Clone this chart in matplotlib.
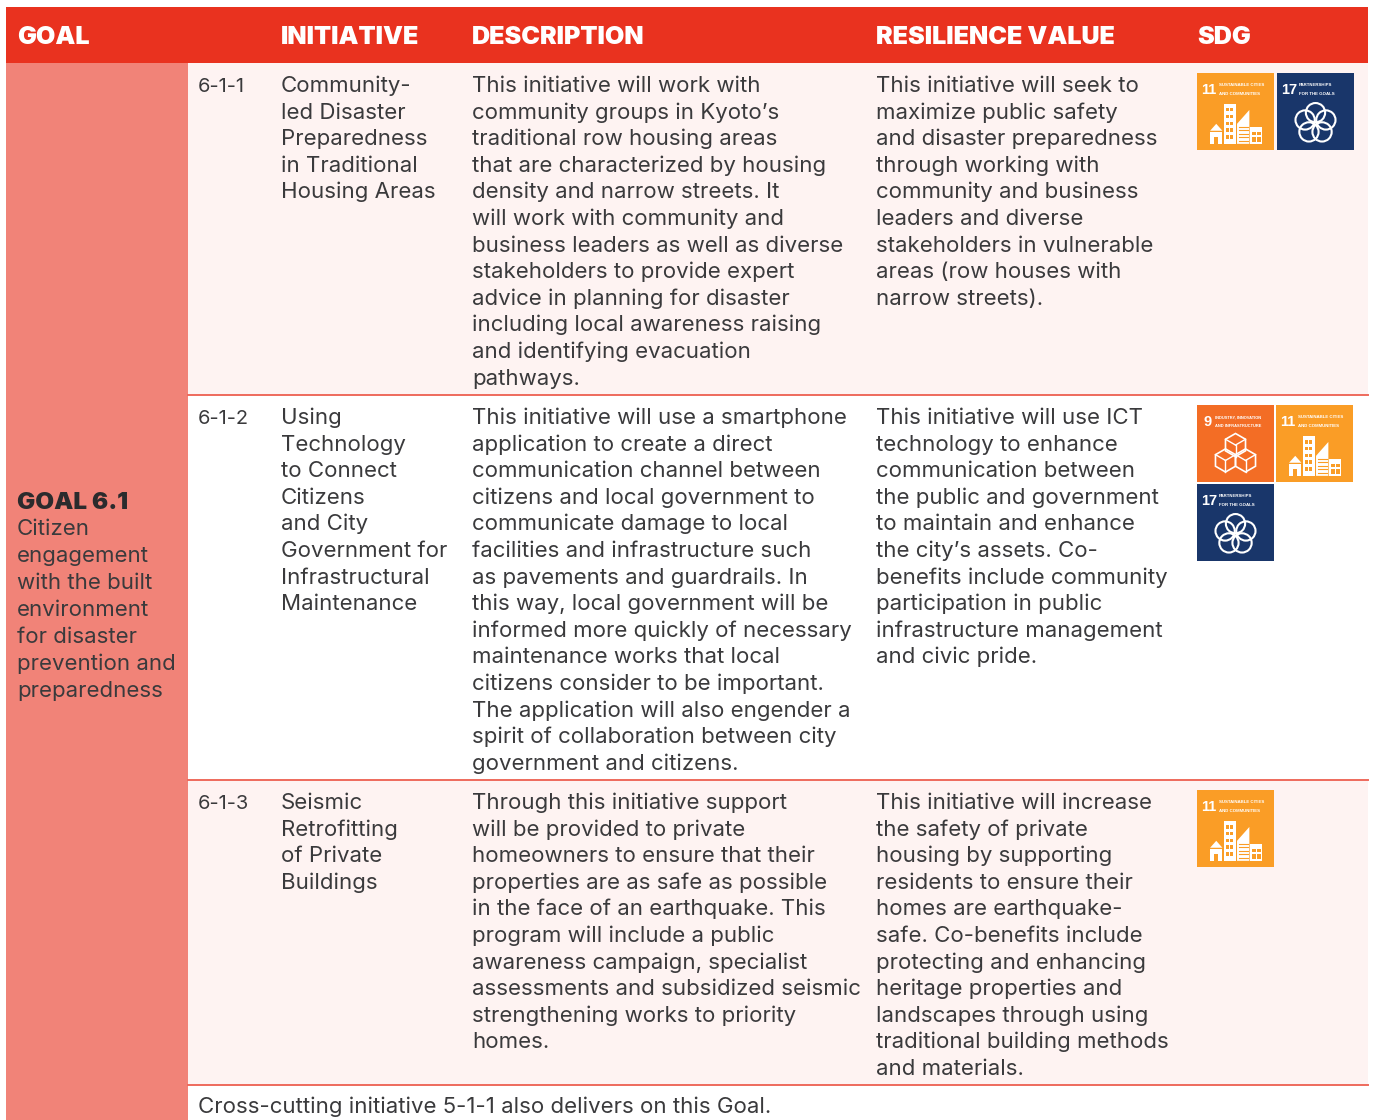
import matplotlib
matplotlib.use('Agg')
import matplotlib.pyplot as plt
from matplotlib.patches import Rectangle, Circle, Polygon

plt.rcParams['font.family'] = ['Inter', 'DejaVu Sans']

headers = ['GOAL', 'INITIATIVE', 'DESCRIPTION', 'RESILIENCE VALUE', 'SDG']
header_x = [17, 281, 472, 876, 1197]

goal_title = 'GOAL 6.1'
goal_lines = ['Citizen', 'engagement', 'with the built', 'environment', 'for disaster',
              'prevention and', 'preparedness']

ids = ['6-1-1', '6-1-2', '6-1-3']
initiatives = [
    ['Community-', 'led Disaster', 'Preparedness', 'in Traditional', 'Housing Areas'],
    ['Using', 'Technology', 'to Connect', 'Citizens', 'and City', 'Government for',
     'Infrastructural', 'Maintenance'],
    ['Seismic', 'Retrofitting', 'of Private', 'Buildings'],
]
descriptions = [
    ['This initiative will work with', 'community groups in Kyoto’s', 'traditional row housing areas',
     'that are characterized by housing', 'density and narrow streets. It', 'will work with community and',
     'business leaders as well as diverse', 'stakeholders to provide expert', 'advice in planning for disaster',
     'including local awareness raising', 'and identifying evacuation', 'pathways.'],
    ['This initiative will use a smartphone', 'application to create a direct',
     'communication channel between', 'citizens and local government to', 'communicate damage to local',
     'facilities and infrastructure such', 'as pavements and guardrails. In', 'this way, local government will be',
     'informed more quickly of necessary', 'maintenance works that local', 'citizens consider to be important.',
     'The application will also engender a', 'spirit of collaboration between city',
     'government and citizens.'],
    ['Through this initiative support', 'will be provided to private', 'homeowners to ensure that their',
     'properties are as safe as possible', 'in the face of an earthquake. This', 'program will include a public',
     'awareness campaign, specialist', 'assessments and subsidized seismic', 'strengthening works to priority',
     'homes.'],
]
resilience = [
    ['This initiative will seek to', 'maximize public safety', 'and disaster preparedness',
     'through working with', 'community and business', 'leaders and diverse', 'stakeholders in vulnerable',
     'areas (row houses with', 'narrow streets).'],
    ['This initiative will use ICT', 'technology to enhance', 'communication between',
     'the public and government', 'to maintain and enhance', 'the city’s assets. Co-',
     'benefits include community', 'participation in public', 'infrastructure management', 'and civic pride.'],
    ['This initiative will increase', 'the safety of private', 'housing by supporting',
     'residents to ensure their', 'homes are earthquake-', 'safe. Co-benefits include',
     'protecting and enhancing', 'heritage properties and', 'landscapes through using',
     'traditional building methods', 'and materials.'],
]
footer = 'Cross-cutting initiative 5-1-1 also delivers on this Goal.'

sdg_names = {
    9: ['INDUSTRY, INNOVATION', 'AND INFRASTRUCTURE'],
    11: ['SUSTAINABLE CITIES', 'AND COMMUNITIES'],
    17: ['PARTNERSHIPS', 'FOR THE GOALS'],
}
sdg_colors = {9: '#F36D25', 11: '#FA9D26', 17: '#19366A'}

RED = '#E9321F'
SALMON = '#F18378'
PINK = '#FEF3F2'
INK = '#3A3A3C'
FS = 16.0
PITCH = 26.6
ICON_FONT = ['Liberation Sans', 'DejaVu Sans']


def px(x, y, w, h, c, z=1):
    ax.add_patch(Rectangle((x, y), w, h, fc=c, ec='none', zorder=z))


def lines(x, y0, rows, pitch=PITCH):
    for i, s in enumerate(rows):
        ax.text(x, y0 + i * pitch, s, fontsize=FS, color=INK, va='baseline', ha='left')


def cube(x, y, s, cx, cy):
    r = .13
    h = .075
    pts = [(cx, cy - 2 * h), (cx + r, cy - h), (cx + r, cy + h), (cx, cy + 2 * h), (cx - r, cy + h), (cx - r, cy - h)]
    poly = [(x + s * a, y + s * b) for a, b in pts]
    ax.add_patch(Polygon(poly, fc='none', ec='white', lw=1.2, zorder=4))
    mid = (x + s * cx, y + s * cy)
    for k in [1, 3, 5]:
        ax.plot([mid[0], poly[k][0]], [mid[1], poly[k][1]], color='white', lw=1.0, zorder=4)


def icon(x, y, n, s=77):
    px(x, y, s, s, sdg_colors[n], 3)
    num_x = .09 if n == 9 else .06
    ax.text(x + s * num_x, y + s * .27, str(n), color='white', fontsize=10.5, fontweight='bold',
            ha='left', va='baseline', family=ICON_FONT, zorder=4)
    lab_x = .24 if n == 9 else .28
    lab_fs = 2.9 if n == 9 else 3.2
    for k, t in enumerate(sdg_names[n]):
        ax.text(x + s * lab_x, y + s * (.17 + .115 * k), t, color='white', fontsize=lab_fs,
                fontweight='bold', ha='left', va='baseline', family=ICON_FONT, zorder=4)
    c = sdg_colors[n]
    if n == 11:
        # house
        px(x + s * .17, y + s * .76, s * .16, s * .16, 'white', 4)
        px(x + s * .225, y + s * .83, s * .05, s * .09, c, 5)
        ax.add_patch(Polygon([(x + s * .17, y + s * .75), (x + s * .25, y + s * .66), (x + s * .33, y + s * .75)],
                             fc='white', ec='none', zorder=4))
        # tower
        px(x + s * .35, y + s * .40, s * .15, s * .52, 'white', 4)
        for r in range(5):
            for col in range(2):
                px(x + s * (.38 + col * .055), y + s * (.45 + r * .09), s * .035, s * .05, c, 5)
        # sloped building
        ax.add_patch(Polygon([(x + s * .52, y + s * .92), (x + s * .52, y + s * .66), (x + s * .68, y + s * .48),
                              (x + s * .68, y + s * .92)], fc='white', ec='none', zorder=4))
        for r in range(5):
            ax.plot([x + s * .54, x + s * .66], [y + s * (.70 + r * .045)] * 2, color=c, lw=.8, zorder=5)
        # low block
        px(x + s * .69, y + s * .70, s * .16, s * .22, 'white', 4)
        px(x + s * .71, y + s * .76, s * .055, s * .05, c, 5)
        px(x + s * .775, y + s * .76, s * .055, s * .05, c, 5)
        px(x + s * .71, y + s * .83, s * .055, s * .06, c, 5)
        px(x + s * .775, y + s * .83, s * .055, s * .06, c, 5)
    elif n == 17:
        for dx, dy in [(0, -.135), (.135, -.04), (.085, .115), (-.085, .115), (-.135, -.04)]:
            ax.add_patch(Circle((x + s * (.5 + dx), y + s * (.65 + dy)), s * .125, fc='none', ec='white',
                                lw=1.5, zorder=4))
    else:
        cube(x, y, s, .5, .52)
        cube(x, y, s, .37, .72)
        cube(x, y, s, .63, .72)


fig = plt.figure(figsize=(13.73, 11.2), dpi=100)
ax = fig.add_axes([0, 0, 1, 1])
ax.set_xlim(0, 1373)
ax.set_ylim(1120, 0)
ax.axis('off')

# backgrounds
px(187, 63, 1181, 332, PINK)
px(187, 780, 1181, 305, PINK)
px(6, 63, 182, 1057, SALMON)
px(6, 7, 1362, 56, RED)
for yy in [395, 780, 1085]:
    ax.plot([188, 1368], [yy, yy], color='#EE6A5C', lw=1.4, zorder=2)

for x, h in zip(header_x, headers):
    ax.text(x, 44, h, color='white', fontsize=18.1, fontweight='black', va='baseline', ha='left')

ax.text(17, 509, goal_title, color='#2B2B2D', fontsize=17.4, fontweight='black', va='baseline')
lines(17, 535, goal_lines, pitch=27)

row_base = [92, 424, 809]
for i in range(3):
    b = row_base[i]
    ax.text(198, b, ids[i], fontsize=14.4, color=INK, va='baseline')
    lines(281, b, initiatives[i])
    lines(472, b, descriptions[i])
    lines(876, b, resilience[i])

icon(1197, 73, 11)
icon(1277, 73, 17)
icon(1197, 405, 9)
icon(1276, 405, 11)
icon(1197, 484, 17)
icon(1197, 790, 11)

ax.text(198, 1113, footer, fontsize=FS, color=INK, va='baseline')

fig.savefig('out.png', dpi=100)
